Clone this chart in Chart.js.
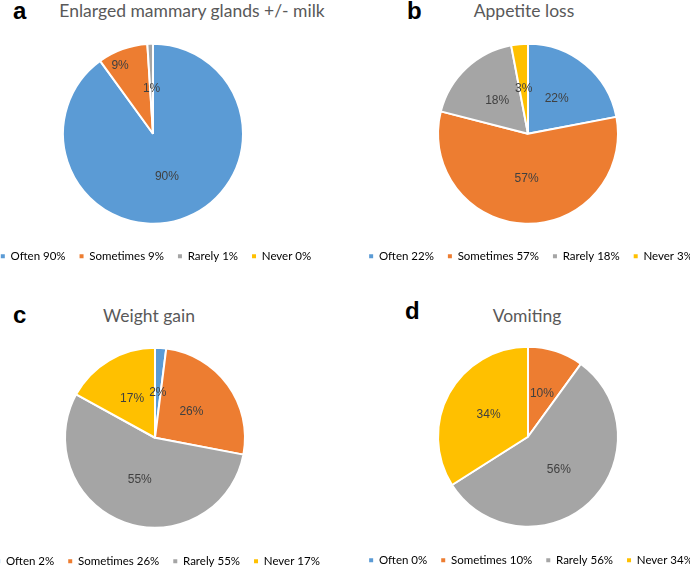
<!DOCTYPE html>
<html>
<head>
<meta charset="utf-8">
<script src="https://cdn.jsdelivr.net/npm/chart.js@4.4.1/dist/chart.umd.min.js"></script>
<style>
  html, body { margin: 0; padding: 0; background: #ffffff; }
  body { width: 690px; height: 567px; position: relative; overflow: hidden; }
  .box { position: absolute; }
  .letter { position: absolute; font-family: "Liberation Sans", Arial, sans-serif; font-weight: bold; font-size: 24px; line-height: 24px; color: #000; }
  .title { position: absolute; width: 400px; text-align: center; font-family: Lato, "Open Sans", sans-serif; font-size: 17.5px; line-height: 18px; color: #595959; white-space: nowrap; }
</style>
</head>
<body>
<div class="letter" style="left:13px; top:-1px;">a</div>
<div class="title" style="left:-8px; top:2px;">Enlarged mammary glands +/- milk</div>
<div class="letter" style="left:407px; top:-1px;">b</div>
<div class="title" style="left:324px; top:2px;">Appetite loss</div>
<div class="letter" style="left:13px; top:303px;">c</div>
<div class="title" style="left:-51px; top:307px;">Weight gain</div>
<div class="letter" style="left:405px; top:299px;">d</div>
<div class="title" style="left:327px; top:307px;">Vomiting</div>

<div class="box" style="left:-57px; top:31px; width:420px; height:241px;"><canvas id="cA"></canvas></div>
<div class="box" style="left:318px; top:31px; width:420px; height:241px;"><canvas id="cB"></canvas></div>
<div class="box" style="left:-55px; top:334px; width:420px; height:243px;"><canvas id="cC"></canvas></div>
<div class="box" style="left:318px; top:333px; width:420px; height:243px;"><canvas id="cD"></canvas></div>

<script>
// ---- data ----
const categories = ['Often', 'Sometimes', 'Rarely', 'Never'];
const mammaryValues = [90, 9, 1, 0];
const appetiteValues = [22, 57, 18, 3];
const weightGainValues = [2, 26, 55, 17];
const vomitingValues = [0, 10, 56, 34];

// ---- styles ----
const sliceColors = ['#5B9BD5', '#ED7D31', '#A5A5A5', '#FFC000'];

const sliceLabelPlugin = {
  id: 'sliceLabels',
  afterDatasetsDraw(chart, args, opts) {
    const ctx = chart.ctx;
    const meta = chart.getDatasetMeta(0);
    const values = chart.data.datasets[0].data;
    ctx.save();
    ctx.font = '12px "Liberation Sans", Arial, sans-serif';
    ctx.fillStyle = '#404040';
    ctx.textAlign = 'center';
    ctx.textBaseline = 'middle';
    meta.data.forEach((arc, i) => {
      const v = values[i];
      if (!v) return;
      const p = arc.getProps(['x', 'y', 'startAngle', 'endAngle', 'outerRadius'], true);
      const ov = (opts.overrides || {})[i] || {};
      const frac = ov.radius != null ? ov.radius : (opts.radius || 0.5);
      const mid = (p.startAngle + p.endAngle) / 2 + (ov.shift || 0) * Math.PI / 180;
      const r = p.outerRadius * frac;
      ctx.fillText(v + '%', p.x + Math.cos(mid) * r, p.y + Math.sin(mid) * r);
    });
    ctx.restore();
  }
};

// nudges the legend row a few px right of the pie centre, as in the reference
const legendNudgePlugin = {
  id: 'legendNudge',
  afterLayout(chart, args, opts) {
    if (chart.legend) {
      chart.legend.left += opts.dx || 0;
      chart.legend.right += opts.dx || 0;
    }
  }
};

function makePie(id, values, overrides) {
  new Chart(document.getElementById(id), {
    type: 'pie',
    data: {
      labels: categories,
      datasets: [{
        data: values,
        backgroundColor: sliceColors,
        borderColor: '#ffffff',
        borderWidth: 2,
        hoverOffset: 0,
        radius: 90
      }]
    },
    options: {
      responsive: true,
      maintainAspectRatio: false,
      animation: false,
      layout: { padding: 0 },
      plugins: {
        tooltip: { enabled: false },
        title: { display: false },
        sliceLabels: { radius: 0.5, overrides: overrides || {} },
        legendNudge: { dx: 3 },
        legend: {
          display: true,
          position: 'bottom',
          labels: {
            boxWidth: 4,
            boxHeight: 4,
            padding: 14,
            color: '#595959',
            font: { family: 'Lato, "Open Sans", sans-serif', size: 11.5 },
            generateLabels: (chart) => categories.map((c, i) => ({
              text: c + ' ' + values[i] + '%',
              fillStyle: sliceColors[i],
              strokeStyle: sliceColors[i],
              lineWidth: 0,
              hidden: false,
              index: i,
              datasetIndex: 0
            }))
          }
        }
      }
    },
    plugins: [sliceLabelPlugin, legendNudgePlugin]
  });
}

makePie('cA', mammaryValues, { 1: { radius: 0.84, shift: -6 } });
makePie('cB', appetiteValues);
makePie('cC', weightGainValues);
makePie('cD', vomitingValues);
</script>
</body>
</html>
